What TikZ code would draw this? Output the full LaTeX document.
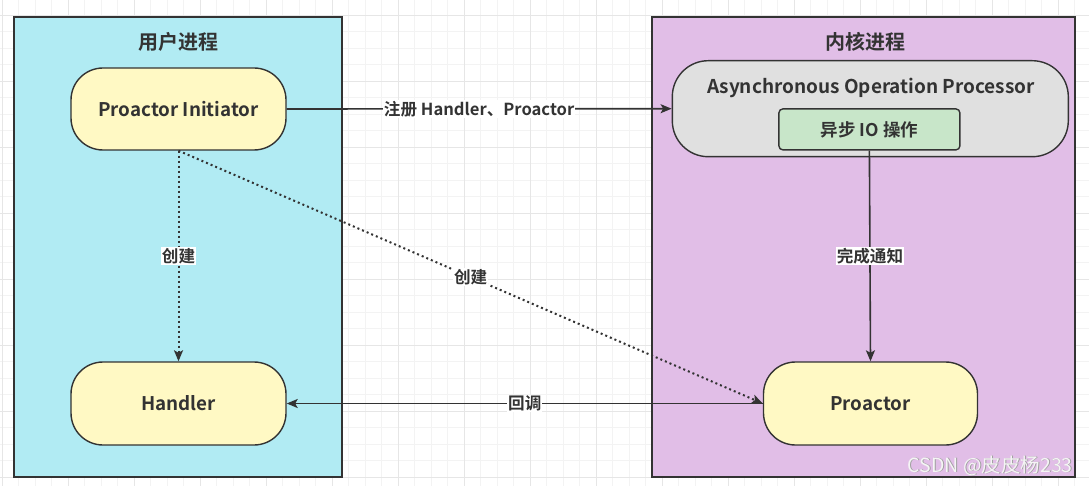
\documentclass[tikz,border=0pt]{standalone}
\usepackage{fontspec}
\setmainfont{Noto Sans CJK SC}[BoldFont={* Bold}]
\newfontfamily\cjkb{Noto Sans CJK SC Bold}
\newfontfamily\cjkr{Noto Sans CJK SC}
\usetikzlibrary{arrows.meta}
\definecolor{ink}{HTML}{333333}
\definecolor{userfill}{HTML}{B1EBF3}
\definecolor{kernfill}{HTML}{E1BEE7}
\definecolor{yellowfill}{HTML}{FFF9C4}
\definecolor{grayfill}{HTML}{E0E0E0}
\definecolor{greenfill}{HTML}{C8E6C9}
\definecolor{gridmin}{HTML}{F3F3F3}
\definecolor{gridmaj}{HTML}{E6E6E6}
\tikzset{
  container/.style={draw=ink, line width=1.6pt},
  title/.style={font=\cjkb\fontsize{20}{23}\selectfont, text=ink, inner sep=0pt},
  pill/.style={draw=ink, line width=1.4pt, fill=yellowfill, rounded corners=32pt, inner sep=0pt,
     font=\cjkb\fontsize{18.8}{22}\selectfont, text=ink},
  conn/.style={draw=ink, line width=1.6pt, -{Stealth[length=11pt,width=9pt,inset=2.5pt]}},
  dotconn/.style={draw=ink, line width=2pt, dash pattern=on 2pt off 3pt,
     -{Stealth[length=11pt,width=9pt,inset=2.5pt]}},
  lbl/.style={fill=white, inner sep=1pt, font=\cjkb\fontsize{16.6}{19}\selectfont, text=ink},
  gmin/.style={draw=gridmin, line width=0.8pt},
  gmaj/.style={draw=gridmaj, line width=0.9pt},
}
\begin{document}
\begin{tikzpicture}[x=1pt,y=-1pt]
\useasboundingbox (0,0) rectangle (1089,486);
\fill[white] (0,0) rectangle (1089,486);
% grid
\foreach \i in {0,...,67} {
  \draw[gmin] ({2.3+16.5*(\i-1)},0) -- ++(0,486);
  \draw[gmin] (0,{15.3+16.5*(\i-1)}) -- ++(1089,0);
}
\foreach \i in {0,...,17} {
  \draw[gmaj] ({2.3+66*\i},0) -- ++(0,486);
  \draw[gmaj] (0,{15.3+66*\i}) -- ++(1089,0);
}
% containers
\draw[container, fill=userfill] (14,17) rectangle (342,477);
\draw[container, fill=kernfill] (652,17) rectangle (1075,477);
\node[title] (usertitle) at (178,42) {用户进程};
\node[title] (kerntitle) at (865.5,42) {内核进程};
% nodes
\node[pill, minimum width=215pt, minimum height=82pt] (init) at (178.5,109) {Proactor Initiator};
\node[pill, minimum width=215pt, minimum height=83pt] (handler) at (178.5,403.5) {Handler};
\node[pill, minimum width=214pt, minimum height=83pt] (proactor) at (870.5,403.5) {Proactor};
\node[pill, fill=grayfill, rounded corners=36pt, minimum width=396pt, minimum height=96pt] (aop) at (870.3,108.7) {};
\node[font=\cjkb\fontsize{19}{22}\selectfont, text=ink, inner sep=0pt] (aoptext) at (871,88) {Asynchronous Operation Processor};
\node[draw=ink, line width=1.4pt, fill=greenfill, rounded corners=4pt, minimum width=181pt, minimum height=41pt,
      inner sep=0pt, font=\cjkb\fontsize{17.5}{20}\selectfont, text=ink] (io) at (869.4,129.4) {异步 IO 操作};
% connectors
\draw[conn] (init.east) -- node[lbl] (reglbl) {注册 Handler、Proactor} (aop.west);
\draw[dotconn] (init.south) -- node[lbl, pos=0.5] (create1) {创建} (handler.north);
\draw[dotconn] (init.south) -- node[lbl, pos=0.5] (create2) {创建} (proactor.west);
\draw[conn] (io.south) -- node[lbl] (donelbl) {完成通知} (proactor.north);
\draw[conn] (proactor.west) -- node[lbl, pos=0.5] (cblbl) {回调} (handler.east);
% watermark
\node[anchor=base east, font=\cjkr\fontsize{19.5}{22}\selectfont, text=gray!75, inner sep=0pt] (wmshadow) at (1073.8,472.8) {CSDN @皮皮杨233};
\node[anchor=base east, font=\cjkr\fontsize{19.5}{22}\selectfont, text=white!92!gray, inner sep=0pt] (wm) at (1073,472) {CSDN @皮皮杨233};
\end{tikzpicture}
\end{document}
